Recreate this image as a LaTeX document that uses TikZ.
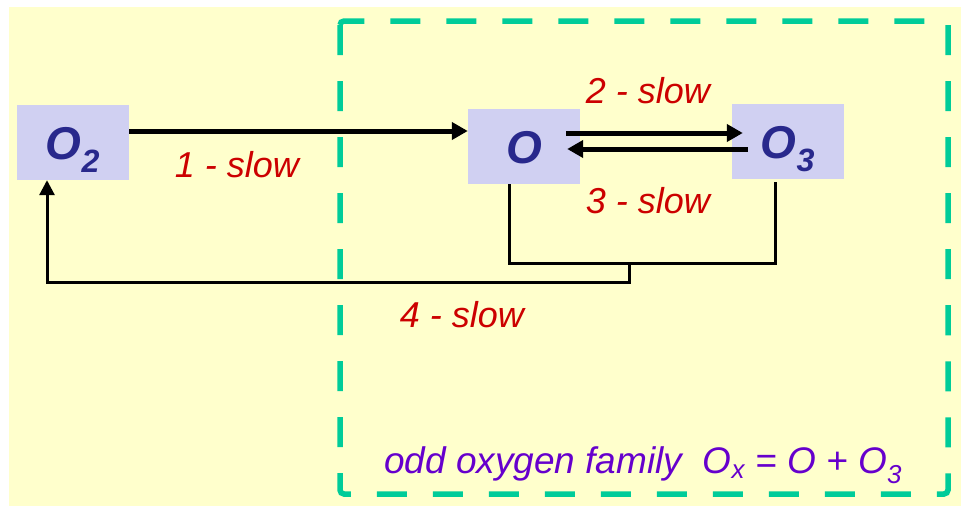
\documentclass[tikz,border=0pt]{standalone}
\usepackage{fontspec}
\setmainfont{Liberation Sans}
\usetikzlibrary{arrows.meta,positioning,calc}
\definecolor{mPaper}{RGB}{255,255,204}
\definecolor{mBox}{RGB}{208,208,242}
\definecolor{mSpecies}{RGB}{40,40,140}
\definecolor{mRate}{RGB}{204,0,0}
\definecolor{mFamily}{RGB}{102,0,204}
\definecolor{mFrame}{RGB}{0,204,153}
\tikzset{
  species/.style={fill=mBox, minimum width=112pt, minimum height=75pt, inner sep=0pt,
    text height=33pt, text depth=0pt,
    text=mSpecies, font=\fontsize{46}{55}\selectfont\bfseries\itshape},
  rate/.style={text=mRate, inner sep=0pt, font=\fontsize{36}{43}\selectfont\itshape},
  fat/.style={line width=5pt, -{Triangle[length=16pt,width=17pt]}},
  thin/.style={line width=3pt}
}
\begin{document}
\begin{tikzpicture}[x=1pt,y=-1pt]
        \useasboundingbox (0,0) rectangle (961,506);
        \fill[mPaper] (9,7) rectangle (961,506);
        \draw[mFrame, line width=5.5pt, dash pattern=on 30pt off 26pt, rounded corners=4pt]
          (340,21) rectangle (948,494);
        \node[species] (o2) at (73,142.5) {O\textsubscript{2}};
        \node[species] (o) at (524,146.5) {O};
        \node[species] (o3) at (788,141.5) {O\textsubscript{3}};
        % reactions 1 to 3
        \draw[fat] ([yshift=11.5pt]o2.east) -- ([yshift=15.5pt]o.west);
        \draw[fat] ([xshift=-14pt,yshift=13.5pt]o.east) -- ([xshift=11pt,yshift=8.5pt]o3.west);
        \draw[fat] ([xshift=16pt,yshift=-7.5pt]o3.west) -- ([xshift=-13pt,yshift=-2.5pt]o.east);
        % reaction 4
        \coordinate (join) at (629,263);
        \coordinate (turn) at (629,282);
        \draw[thin] ([xshift=-15pt]o.south) |- (join) -| ([xshift=-13pt,yshift=-3pt]o3.south);
        \draw[thin, -{Triangle[length=15pt,width=15pt]}] (join) -- (turn) -| ([xshift=-26pt]o2.south);
        \node[rate] (r1) at (237,165) {1 - slow};
        \node[rate] (r2) at (648,91) {2 - slow};
        \node[rate] (r3) at (648,201) {3 - slow};
        \node[rate] (r4) at (462,315) {4 - slow};
        \node[text=mFamily, inner sep=0pt, font=\fontsize{37}{44}\selectfont\itshape] (fam) at (643,465)
          {odd oxygen family\ \ O\textsubscript{x} = O + O\textsubscript{3}};
      \end{tikzpicture}
\end{document}
